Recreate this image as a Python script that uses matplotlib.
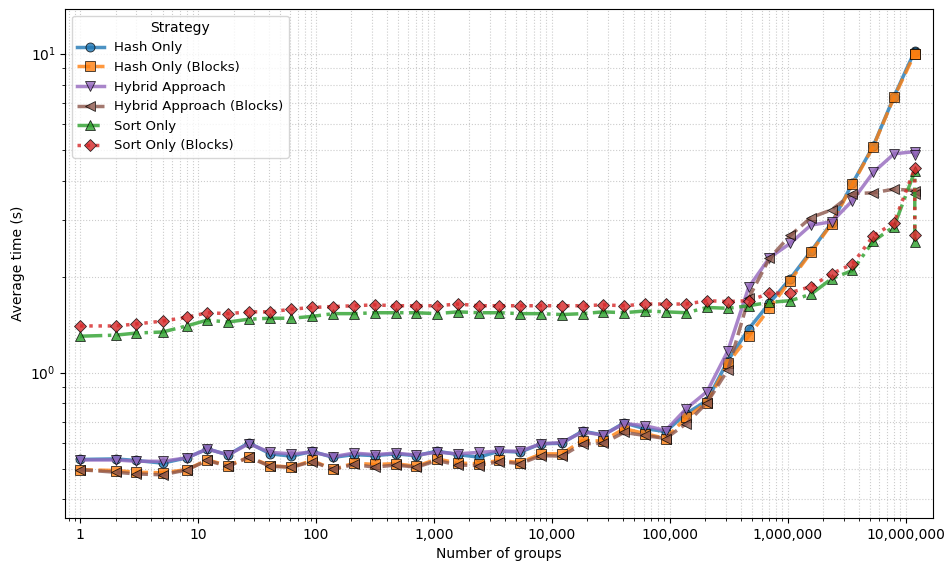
import matplotlib
matplotlib.use("Agg")
import matplotlib.pyplot as plt
import matplotlib.ticker as mticker

# ---------------------------------------------------------------------------
# Data
# ---------------------------------------------------------------------------
groups = [
    1, 2, 3, 5, 8, 12, 18, 27, 41, 62, 93, 140, 210, 315, 473, 710, 1065,
    1598, 2397, 3596, 5394, 8091, 12137, 18206, 27309, 40964, 61446, 92169,
    138254, 207381, 311072, 466608, 699912, 1049868, 1574802, 2362203,
    3543305, 5314958, 7972437, 11958656, 11958656,
]

hash_only = [
    0.534, 0.536, 0.530, 0.520, 0.540, 0.576, 0.552, 0.602, 0.556, 0.547,
    0.566, 0.542, 0.553, 0.549, 0.556, 0.549, 0.567, 0.553, 0.543, 0.567,
    0.563, 0.598, 0.600, 0.655, 0.637, 0.695, 0.667, 0.653, 0.744, 0.817,
    1.09, 1.37, 1.65, 1.97, 2.40, 2.95, 3.92, 5.13, 7.33, 10.2, 10.1,
]
hash_only_blocks = [
    0.496, 0.493, 0.487, 0.485, 0.496, 0.532, 0.511, 0.543, 0.511, 0.505,
    0.530, 0.497, 0.520, 0.515, 0.518, 0.508, 0.536, 0.520, 0.518, 0.530,
    0.522, 0.556, 0.556, 0.612, 0.610, 0.667, 0.644, 0.621, 0.723, 0.805,
    1.07, 1.30, 1.59, 1.94, 2.38, 2.93, 3.89, 5.11, 7.29, 10.0, 9.95,
]
hybrid = [
    0.532, 0.532, 0.527, 0.527, 0.540, 0.576, 0.552, 0.598, 0.562, 0.556,
    0.563, 0.545, 0.559, 0.553, 0.559, 0.551, 0.563, 0.556, 0.562, 0.567,
    0.567, 0.598, 0.603, 0.651, 0.637, 0.692, 0.682, 0.658, 0.771, 0.872,
    1.17, 1.85, 2.29, 2.54, 2.90, 2.97, 3.46, 4.24, 4.85, 4.93, 4.82,
]
hybrid_blocks = [
    0.496, 0.487, 0.481, 0.478, 0.495, 0.530, 0.508, 0.543, 0.508, 0.505,
    0.526, 0.497, 0.515, 0.505, 0.513, 0.505, 0.530, 0.513, 0.511, 0.526,
    0.518, 0.549, 0.547, 0.598, 0.600, 0.649, 0.635, 0.621, 0.692, 0.805,
    1.02, 1.71, 2.28, 2.69, 3.06, 3.24, 3.64, 3.66, 3.76, 3.72, 3.64,
]
sort_only = [
    1.30, 1.31, 1.33, 1.34, 1.40, 1.46, 1.44, 1.47, 1.48, 1.48,
    1.50, 1.53, 1.53, 1.54, 1.54, 1.54, 1.53, 1.55, 1.54, 1.54,
    1.53, 1.53, 1.52, 1.53, 1.55, 1.54, 1.56, 1.55, 1.54, 1.60,
    1.59, 1.62, 1.66, 1.68, 1.76, 1.97, 2.09, 2.58, 2.87, 4.27, 2.57,
]
sort_only_blocks = [
    1.40, 1.40, 1.42, 1.45, 1.49, 1.54, 1.53, 1.55, 1.55, 1.58,
    1.60, 1.61, 1.62, 1.63, 1.62, 1.62, 1.62, 1.64, 1.62, 1.62,
    1.62, 1.62, 1.62, 1.62, 1.63, 1.62, 1.64, 1.64, 1.64, 1.68,
    1.67, 1.68, 1.77, 1.78, 1.86, 2.04, 2.19, 2.68, 2.95, 4.37, 2.69,
]

x_ticks = [1, 10, 100, 1000, 10000, 100000, 1000000, 10000000]

series = [
    ("Hash Only", hash_only, "tab:blue", "-", "o"),
    ("Hash Only (Blocks)", hash_only_blocks, "tab:orange", "--", "s"),
    ("Hybrid Approach", hybrid, "tab:purple", "-", "v"),
    ("Hybrid Approach (Blocks)", hybrid_blocks, "tab:brown", "--", "<"),
    ("Sort Only", sort_only, "tab:green", "-.", "^"),
    ("Sort Only (Blocks)", sort_only_blocks, "tab:red", ":", "D"),
]

fig, ax = plt.subplots(figsize=(9.47, 5.63), dpi=100)
fig.subplots_adjust(left=0.069, right=0.985, top=0.984, bottom=0.080)

for label, vals, color, ls, marker in series:
    ax.plot(groups, vals, label=label, color=color, linestyle=ls, marker=marker,
            linewidth=2.5, markersize=6.5, markeredgecolor="black",
            markeredgewidth=0.6, alpha=0.8)

ax.set_xscale("log")
ax.set_yscale("log")
ax.set_xlim(0.75, 1.7e7)
ax.set_ylim(0.35, 13.8)
ax.set_xticks(x_ticks)
ax.set_xticklabels([f"{t:,}" for t in x_ticks])
ax.grid(True, which="both", linestyle=":", color="#cccccc", linewidth=0.8)
ax.set_xlabel("Number of groups")
ax.set_ylabel("Average time (s)")
ax.legend(title="Strategy", loc="upper left", fontsize=9.5, title_fontsize=10)

fig.savefig("out.png", dpi=100)
